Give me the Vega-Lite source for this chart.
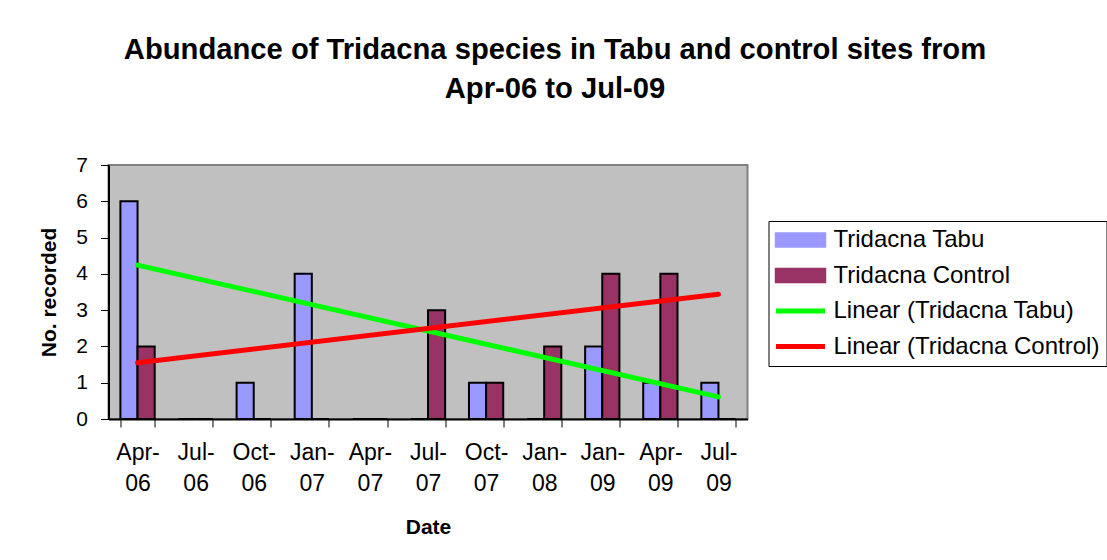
{
  "$schema": "https://vega.github.io/schema/vega-lite/v6.json",
  "width": 639,
  "height": 254,
  "padding": {"left": 37.5, "top": 35, "right": 0, "bottom": 0},
  "background": "white",
  "title": {
    "text": ["Abundance of Tridacna species in Tabu and control sites from", "Apr-06 to Jul-09"],
    "font": "Liberation Sans",
    "fontSize": 29.2,
    "fontWeight": "bold",
    "color": "black",
    "lineHeight": 39,
    "anchor": "middle",
    "dx": 127,
    "offset": 50
  },
  "config": {
    "view": {"fill": "#C0C0C0", "stroke": "#808080", "strokeWidth": 2},
    "font": "Liberation Sans",
    "axis": {"grid": false, "domainColor": "black", "tickColor": "black", "labelColor": "black", "titleColor": "black", "labelFont": "Liberation Sans", "titleFont": "Liberation Sans"}
  },
  "encoding": {
    "x": {
      "field": "date", "type": "nominal", "sort": null,
      "scale": {"domain": ["Apr-06", "Jul-06", "Oct-06", "Jan-07", "Apr-07", "Jul-07", "Oct-07", "Jan-08", "Jan-09", "Apr-09", "Jul-09"], "paddingInner": 0.41, "paddingOuter": 0.205},
      "axis": {
        "title": "Date", "titleFontSize": 21, "titleFontWeight": "bold", "titlePadding": 21,
        "labelAngle": 0, "labelFontSize": 23, "labelLineHeight": 31, "labelPadding": 14,
        "labelExpr": "[slice(datum.label, 0, 4), slice(datum.label, 4)]",
        "tickBand": "extent", "tickSize": 8, "domainWidth": 2
      }
    },
    "y": {
      "field": "count", "type": "quantitative",
      "scale": {"domain": [0, 7], "nice": false},
      "axis": {"title": "No. recorded", "titleFontSize": 21, "titleFontWeight": "bold", "titlePadding": 16.5, "values": [0, 1, 2, 3, 4, 5, 6, 7], "labelOverlap": false, "labelFontSize": 21, "labelPadding": 13, "tickSize": 8, "domainWidth": 2}
    }
  },
  "layer": [
    {
      "data": {
        "values": [
          {"date": "Apr-06", "series": "Tridacna Tabu", "count": 6},
          {"date": "Apr-06", "series": "Tridacna Control", "count": 2},
          {"date": "Jul-06", "series": "Tridacna Tabu", "count": 0},
          {"date": "Jul-06", "series": "Tridacna Control", "count": 0},
          {"date": "Oct-06", "series": "Tridacna Tabu", "count": 1},
          {"date": "Oct-06", "series": "Tridacna Control", "count": 0},
          {"date": "Jan-07", "series": "Tridacna Tabu", "count": 4},
          {"date": "Jan-07", "series": "Tridacna Control", "count": 0},
          {"date": "Apr-07", "series": "Tridacna Tabu", "count": 0},
          {"date": "Apr-07", "series": "Tridacna Control", "count": 0},
          {"date": "Jul-07", "series": "Tridacna Tabu", "count": 0},
          {"date": "Jul-07", "series": "Tridacna Control", "count": 3},
          {"date": "Oct-07", "series": "Tridacna Tabu", "count": 1},
          {"date": "Oct-07", "series": "Tridacna Control", "count": 1},
          {"date": "Jan-08", "series": "Tridacna Tabu", "count": 0},
          {"date": "Jan-08", "series": "Tridacna Control", "count": 2},
          {"date": "Jan-09", "series": "Tridacna Tabu", "count": 2},
          {"date": "Jan-09", "series": "Tridacna Control", "count": 4},
          {"date": "Apr-09", "series": "Tridacna Tabu", "count": 1},
          {"date": "Apr-09", "series": "Tridacna Control", "count": 4},
          {"date": "Jul-09", "series": "Tridacna Tabu", "count": 1},
          {"date": "Jul-09", "series": "Tridacna Control", "count": 0}
        ]
      },
      "mark": {"type": "bar", "stroke": "black", "strokeWidth": 2},
      "encoding": {
        "xOffset": {"field": "series", "type": "nominal", "scale": {"domain": ["Tridacna Tabu", "Tridacna Control"], "paddingInner": 0, "paddingOuter": 0}},
        "color": {
          "field": "series", "type": "nominal",
          "scale": {"domain": ["Tridacna Tabu", "Tridacna Control", "Linear (Tridacna Tabu)", "Linear (Tridacna Control)"], "range": ["#9999FF", "#993366", "#00FF00", "#FF0000"]},
          "legend": {
            "orient": "none", "legendX": 660, "legendY": 56,
            "title": null,
            "labelFont": "Liberation Sans", "labelFontSize": 24, "labelColor": "black", "labelLimit": 400,
            "strokeColor": "black", "fillColor": "white", "padding": 7, "rowPadding": 11.5,
            "symbolSize": 529, "symbolOffset": 13, "labelOffset": 21,
            "symbolType": "M-2.13,-0.565H2.13V0.565H-2.13Z",
            "symbolStrokeWidth": 2, "symbolStrokeColor": "black",
            "encode": {
              "symbols": {
                "update": {
                  "shape": {"signal": "datum.index >= 2 ? 'M-2.13,0H2.13' : 'M-2.13,-0.565H2.13V0.565H-2.13Z'"},
                  "fill": {"signal": "datum.index === 0 ? '#9999FF' : datum.index === 1 ? '#993366' : 'transparent'"},
                  "stroke": {"signal": "datum.index === 2 ? '#00FF00' : datum.index === 3 ? '#FF0000' : '#000000'"},
                  "strokeWidth": {"signal": "datum.index >= 2 ? 5 : 2.5"},
                  "strokeOpacity": {"value": 1},
                  "fillOpacity": {"value": 1},
                  "opacity": {"value": 1}
                }
              }
            }
          }
        }
      }
    },
    {
      "data": {
        "values": [
          {"date": "Apr-06", "series": "Linear (Tridacna Tabu)", "count": 4.24},
          {"date": "Jul-09", "series": "Linear (Tridacna Tabu)", "count": 0.61},
          {"date": "Apr-06", "series": "Linear (Tridacna Control)", "count": 1.55},
          {"date": "Jul-09", "series": "Linear (Tridacna Control)", "count": 3.44}
        ]
      },
      "mark": {"type": "line", "strokeWidth": 5, "strokeCap": "round"},
      "encoding": {
        "color": {"field": "series", "type": "nominal", "legend": null},
        "detail": {"field": "series"}
      }
    }
  ]
}
